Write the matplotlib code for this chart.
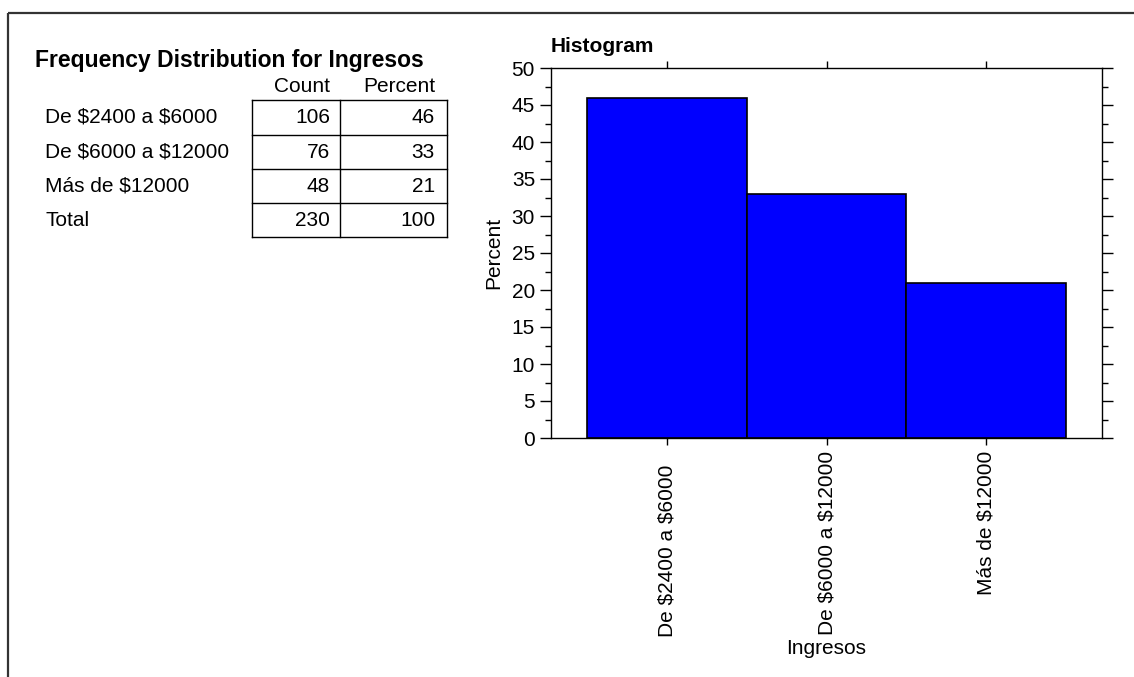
import matplotlib.pyplot as plt
from matplotlib.ticker import MultipleLocator
from matplotlib.transforms import ScaledTranslation

plt.rcParams['font.family'] = ['Liberation Sans', 'DejaVu Sans']
plt.rcParams['text.parse_math'] = False

# datos de la tabla / histograma
categorias = ['De $2400 a $6000', 'De $6000 a $12000', 'Más de $12000']
conteos = [106, 76, 48]
porcentajes = [46, 33, 21]
total_conteo = 230
total_porcentaje = 100

W, H = 1134, 677
fig = plt.figure(figsize=(W / 100, H / 100), dpi=100)

# capa de fondo en coordenadas de pixel
bg = fig.add_axes([0, 0, 1, 1])
bg.set_xlim(0, W)
bg.set_ylim(H, 0)
bg.axis('off')

# marco exterior
bg.plot([8, 8], [H, 13], color='#333333', lw=1.6, solid_capstyle='butt')
bg.plot([8, W], [13, 13], color='#333333', lw=1.6, solid_capstyle='butt')

# tabla de frecuencias
bg.text(35, 61, 'Frequency Distribution for Ingresos', fontsize=16.5,
        fontweight='bold', ha='left', va='center')
bg.text(330, 86, 'Count', fontsize=15, ha='right', va='center')
bg.text(435, 86, 'Percent', fontsize=15, ha='right', va='center')

filas = categorias + ['Total']
col_count = conteos + [total_conteo]
col_pct = porcentajes + [total_porcentaje]
y_lines = [100, 135, 169, 203, 237]
for i, nombre in enumerate(filas):
    yc = (y_lines[i] + y_lines[i + 1]) / 2
    bg.text(45, yc, nombre, fontsize=15, ha='left', va='center')
    bg.text(330, yc, str(col_count[i]), fontsize=15, ha='right', va='center')
    bg.text(435, yc, str(col_pct[i]), fontsize=15, ha='right', va='center')

for yl in y_lines:
    bg.plot([252, 447], [yl, yl], color='black', lw=1.0)
for xl in [252, 340, 447]:
    bg.plot([xl, xl], [y_lines[0], y_lines[-1]], color='black', lw=1.0)

# histograma
left, right, top, bottom = 551, 1102, 68, 438
ax = fig.add_axes([left / W, (H - bottom) / H, (right - left) / W, (bottom - top) / H])
x = list(range(len(categorias)))
ax.bar(x, porcentajes, width=1.0, color='#0000FF', edgecolor='black', linewidth=1.2)
ax.set_xlim(-0.725, 2.725)
ax.set_ylim(0, 50)
ax.set_yticks(range(0, 51, 5))
ax.yaxis.set_minor_locator(MultipleLocator(2.5))
ax.set_xticks(x)
ax.set_xticklabels(categorias, rotation=90, fontsize=15)
ax.tick_params(axis='y', which='both', direction='out', right=True, labelright=False,
               labelsize=15, width=1.0)
ax.tick_params(axis='y', which='major', length=8)
ax.tick_params(axis='y', which='minor', length=4)
ax.tick_params(axis='x', direction='out', top=True, length=5, width=1.0, pad=4)
for s in ax.spines.values():
    s.set_linewidth(1.0)

# la primera etiqueta aparece más abajo en el original
lab0 = ax.get_xticklabels()[0]
lab0.set_transform(lab0.get_transform() + ScaledTranslation(0, -0.14, fig.dpi_scale_trans))

ax.set_ylabel('Percent', fontsize=15)
ax.yaxis.set_label_coords((503 - left) / (right - left), 0.5)
ax.set_xlabel('Ingresos', fontsize=15)
ax.xaxis.label.set_va('center')
ax.xaxis.set_label_coords(0.5, (bottom - 648) / (bottom - top))

ax.text(0.0, (bottom - 47) / (bottom - top), 'Histogram', transform=ax.transAxes,
        fontsize=15, fontweight='bold', ha='left', va='center')

fig.savefig('out.png', dpi=100)
